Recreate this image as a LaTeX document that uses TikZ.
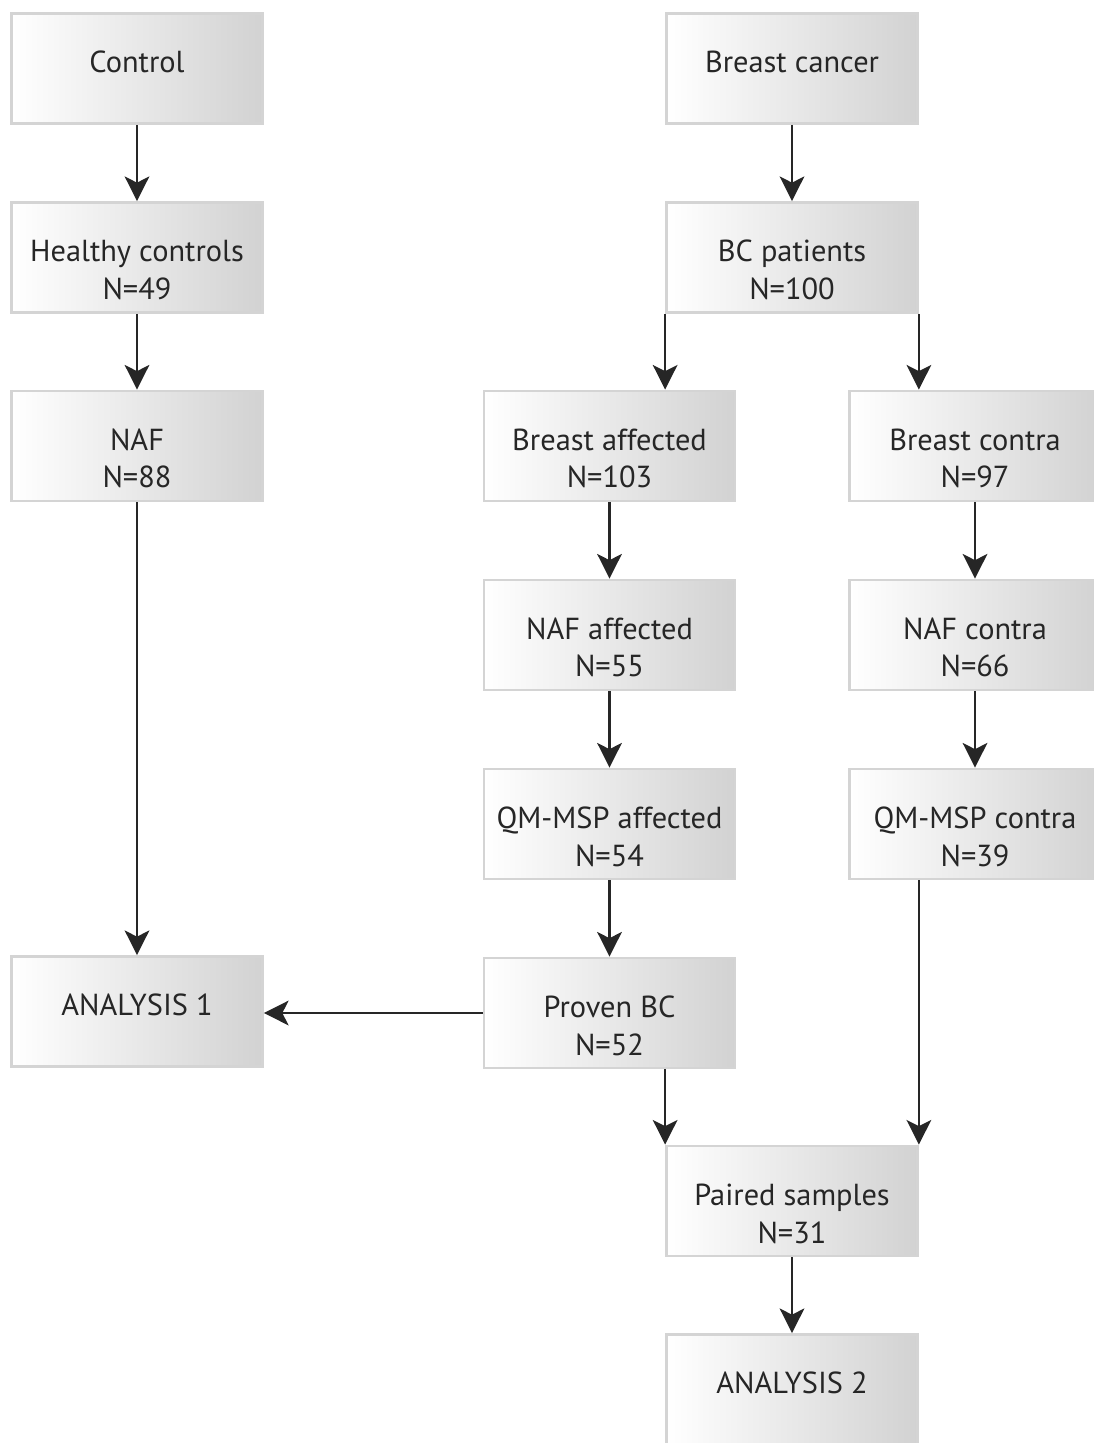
\documentclass[tikz,border=0pt]{standalone}
\usepackage{fontspec}
\setmainfont{PT Sans}
\usepackage{tikz}
\usetikzlibrary{arrows.meta}
\definecolor{boxline}{HTML}{D4D4D4}
\definecolor{boxdark}{HTML}{D2D2D2}
\definecolor{textgray}{HTML}{262626}
\tikzstyle{box}=[rectangle,draw=boxline,line width=1.6pt,
                 left color=white,right color=boxdark,
                 minimum width=5.02cm,minimum height=2.2cm,inner sep=0pt,
                 align=center,text=textgray,
                 text height=18pt,text depth=13.2pt,
                 font=\fontsize{17.3}{21.5}\selectfont]
\tikzstyle{twobox}=[box,text height=50pt,text depth=2.2pt]
\tikzstyle{flow}=[-{Stealth[length=14pt,width=14pt,inset=3.5pt]},
                  line width=1.5pt,draw=black!85]

\begin{document}
\begin{tikzpicture}[x=0.02cm,y=-0.02cm]
    \useasboundingbox (0,0) rectangle (1094,1443);
    \clip (0,0) rectangle (1094,1443);
    % left column
    \node (ctrl) at (137,68.5)  [box]{Control};
    \node (hc)   at (137,257.5) [twobox]{Healthy controls\\N=49};
    \node (naf)  at (137,446)   [twobox]{NAF\\N=88};
    \node (an1)  at (137,1011.5)[box]{ANALYSIS 1};
    % breast cancer
    \node (bc)   at (792,68.5)  [box]{Breast cancer};
    \node (bcp)  at (792,257.5) [twobox]{BC patients\\N=100};
    \node (baff) at (609.5,446) [twobox]{Breast affected\\N=103};
    \node (bcon) at (975,446)   [twobox]{Breast contra\\N=97};
    \node (naff) at (609.5,635) [twobox]{NAF affected\\N=55};
    \node (ncon) at (975,635)   [twobox]{NAF contra\\N=66};
    \node (qaff) at (609.5,824) [twobox]{QM-MSP affected\\N=54};
    \node (qcon) at (975,824)   [twobox]{QM-MSP contra\\N=39};
    \node (pbc)  at (609.5,1013)[twobox]{Proven BC\\N=52};
    \node (pair) at (792,1201)  [twobox]{Paired samples\\N=31};
    \node (an2)  at (792,1389.5)[box]{ANALYSIS 2};

    \draw[flow] (ctrl) -- (hc);
    \draw[flow] (hc) -- (naf);
    \draw[flow] (naf) -- (an1);
    \draw[flow] (bc) -- (bcp);
    \draw[flow] (bcp.south west) -- (bcp.south west |- baff.north);
    \draw[flow] (bcp.south east) -- (bcp.south east |- bcon.north);
    \draw[flow] (baff) -- (naff);
    \draw[flow] (naff) -- (qaff);
    \draw[flow] (qaff) -- (pbc);
    \draw[flow] (bcon) -- (ncon);
    \draw[flow] (ncon) -- (qcon);
    \draw[flow] (pbc.west) -- (pbc.west -| an1.east);
    \draw[flow] (pbc.south -| pair.west) -- (pair.north west);
    \draw[flow] (qcon.south -| pair.east) -- (pair.north east);
    \draw[flow] (pair) -- (an2);
\end{tikzpicture}
\end{document}
